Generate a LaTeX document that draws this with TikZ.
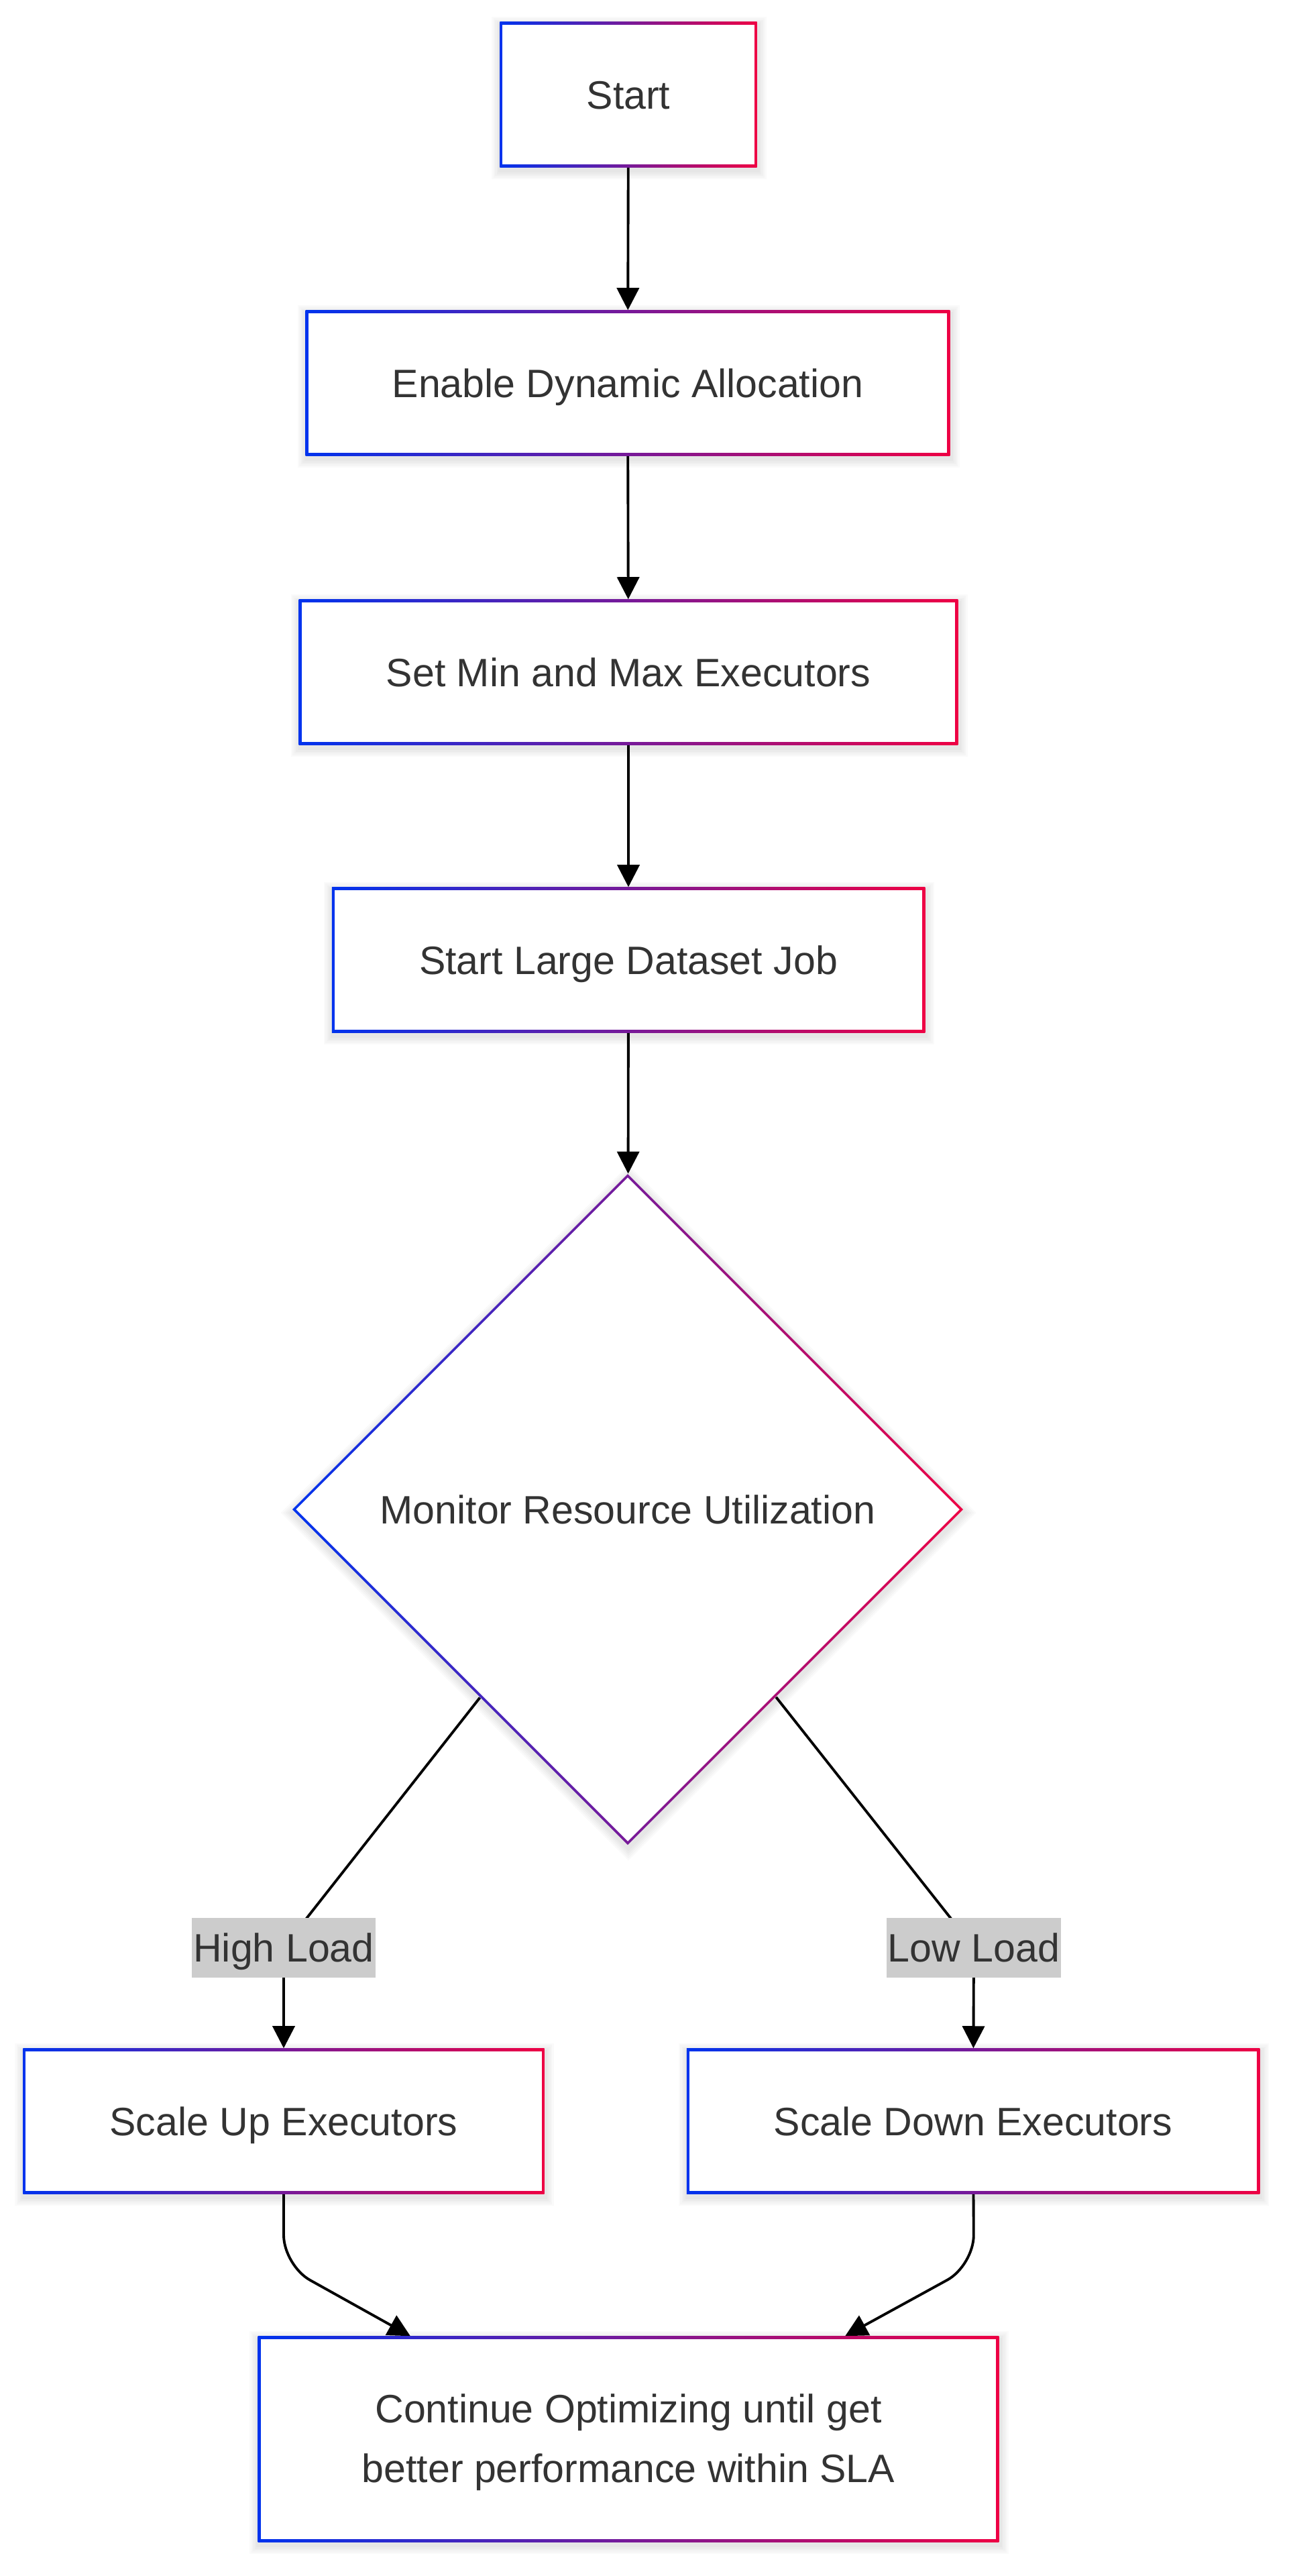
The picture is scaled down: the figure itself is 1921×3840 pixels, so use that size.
\documentclass[tikz,border=0pt]{standalone}
\usepackage{fontspec}
\setmainfont{Liberation Sans}
\usepackage{xcolor}
\usepackage{tikz}
\usetikzlibrary{shapes.geometric, arrows.meta, backgrounds}

\definecolor{edgeblue}{HTML}{0033EE}
\definecolor{edgered}{HTML}{EE0044}
\definecolor{txtgray}{HTML}{333333}
\definecolor{lblgray}{HTML}{CCCCCC}

\begin{document}
\begin{tikzpicture}[x=0.01cm, y=-0.01cm,
    every node/.style={text=txtgray, font=\fontsize{16.8}{25.3}\selectfont,
        text height=12pt, text depth=0pt},
    gbox/.style={rectangle, inner sep=0pt, minimum height=2.16cm,
        left color=edgeblue, right color=edgered,
        path picture={\fill[white] ([shift={(1.1pt,-1.1pt)}]path picture bounding box.north west)
            rectangle ([shift={(-1.1pt,1.1pt)}]path picture bounding box.south east);}},
    gdiamond/.style={diamond, inner sep=0pt, minimum width=10cm, minimum height=10cm,
        left color=edgeblue, right color=edgered,
        path picture={\fill[white] ([yshift=-1.5pt]path picture bounding box.north)
            -- ([xshift=-1.5pt]path picture bounding box.east)
            -- ([yshift=1.5pt]path picture bounding box.south)
            -- ([xshift=1.5pt]path picture bounding box.west) -- cycle;}},
    lbl/.style={fill=lblgray, inner xsep=0.02cm, inner ysep=0pt, minimum height=0.89cm},
    arr/.style={line width=1.1pt, -{Triangle[length=0.33cm, width=0.33cm]}}
]
    % Page
    \useasboundingbox (0,0) rectangle (1921,3840);

    % Steps down the middle
    \node[gbox, minimum width=3.83cm] (start) at (937,141) {Start};
    \node[gbox, minimum width=9.6cm] (enable) at (936,571) {Enable Dynamic Allocation};
    \node[gbox, minimum width=9.82cm] (minmax) at (937,1002) {Set Min and Max Executors};
    \node[gbox, minimum width=8.84cm] (job) at (937,1431) {Start Large Dataset Job};

    % Decision
    \node[gdiamond] (monitor) at (936,2250) {Monitor Resource Utilization};

    % Branch labels
    \node[lbl] (high) at (423,2903) {High Load};
    \node[lbl] (low) at (1452,2903) {Low Load};

    % Branches
    \node[gbox, minimum width=7.77cm] (up) at (423,3162) {Scale Up Executors};
    \node[gbox, minimum width=8.54cm] (down) at (1451,3162) {Scale Down Executors};

    % End
    \node[gbox, minimum width=11.04cm, minimum height=3.06cm, align=center,
        text height={}, text depth={}] (cont) at (937,3636)
        {\rule{0pt}{15pt}Continue Optimizing until get\\better performance within SLA};

    % Shadows and connectors
    \begin{scope}[on background layer]
        \fill[white] (0,0) rectangle (1921,3840);
        \foreach \n in {start,enable,minmax,job,up,down,cont}
            \foreach \k in {1,...,5}
                \fill[black, opacity=0.02]
                    ([shift={(-\k*0.025cm+0.01cm, -\k*0.025cm-0.05cm)}]\n.south west)
                    rectangle ([shift={(\k*0.025cm+0.01cm, \k*0.025cm-0.05cm)}]\n.north east);
        \foreach \k in {1,...,5}
            \fill[black, opacity=0.02]
                ([shift={(0.01cm, \k*0.035cm-0.05cm)}]monitor.north)
                -- ([shift={(\k*0.035cm+0.01cm, -0.05cm)}]monitor.east)
                -- ([shift={(0.01cm, -\k*0.035cm-0.05cm)}]monitor.south)
                -- ([shift={(-\k*0.035cm+0.01cm, -0.05cm)}]monitor.west) -- cycle;
        \draw[arr] (start) -- (enable);
        \draw[arr] (enable) -- (minmax);
        \draw[arr] (minmax) -- (job);
        \draw[arr] (job) -- (monitor);
        \draw[arr] (monitor) -- (high.center) -- (up);
        \draw[arr] (monitor) -- (low.center) -- (down);
        \draw[arr, rounded corners=0.45cm] (up) -- (423,3377) -- ([xshift=-3.25cm]cont.north);
        \draw[arr, rounded corners=0.45cm] (down) -- (1452,3377) -- ([xshift=3.23cm]cont.north);
    \end{scope}
\end{tikzpicture}
\end{document}
